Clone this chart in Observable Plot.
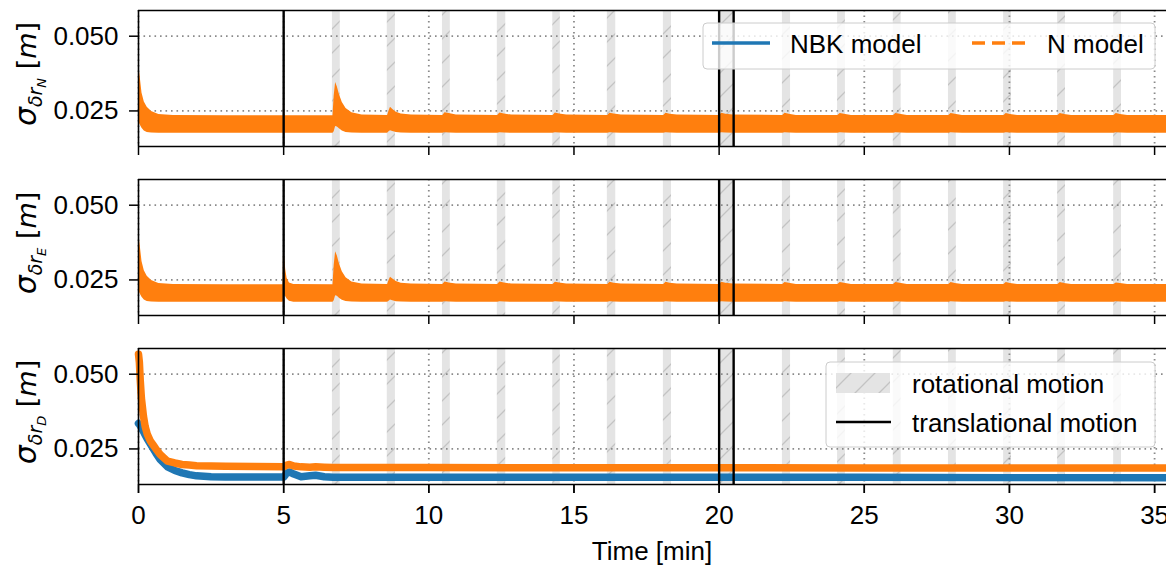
<!DOCTYPE html>
<html>
<head>
<meta charset="utf-8">
<script src="https://cdn.jsdelivr.net/npm/d3@7"></script>
<script src="https://cdn.jsdelivr.net/npm/@observablehq/plot@0.6"></script>
<style>
  body { margin: 0; background: #fff; }
  #chart { position: relative; width: 1166px; height: 568px; overflow: hidden; }
</style>
</head>
<body>
<div id="chart"></div>
<script>
// ---------- data ----------
const panels = ["N", "E", "D"];
const xTicks = [0, 5, 10, 15, 20, 25, 30, 35];
const yTicks = [0.025, 0.050];
const transTimes = [5, 20, 20.5];
const rotStarts = [6.68, 8.57, 10.47, 12.36, 14.27, 16.15, 18.08, 20.0, 22.18, 24.08, 26.0, 27.9, 29.8, 31.66, 33.59];
const rotEnds   = [6.95, 8.85, 10.74, 12.65, 14.53, 16.44, 18.36, 20.5, 22.46, 24.35, 26.27, 28.17, 30.07, 31.93, 33.86];

// North panel: envelope of the fast-oscillating N-model curve (NBK identical beneath)
const timeN = [0,0.05,0.12,0.2,0.3,0.45,0.7,1.2,3,5,6.7,6.74,6.79,6.85,6.92,7.02,7.15,7.35,7.7,8.58,8.63,8.68,8.76,8.88,9.05,9.4,
  10.48,10.56,10.7,10.95, 12.37,12.45,12.6,12.85, 14.28,14.36,14.5,14.75, 16.16,16.24,16.38,16.63, 18.09,18.17,18.31,18.56,
  20.01,20.09,20.23,20.48, 22.19,22.27,22.41,22.66, 24.09,24.17,24.31,24.56, 26.01,26.09,26.23,26.48, 27.91,27.99,28.13,28.38,
  29.81,29.89,30.03,30.28, 31.67,31.75,31.89,32.14, 33.6,33.68,33.82,34.07, 35.41];
const hiN = [0.0409,0.0370,0.0310,0.0280,0.0262,0.0248,0.0238,0.0235,0.0234,0.0234,0.0234,0.0300,0.0345,0.0330,0.0305,0.0278,0.0258,0.0244,0.0236,0.0235,0.0250,0.0262,0.0255,0.0246,0.0240,0.0236,
  0.0235,0.0244,0.0241,0.0236, 0.0235,0.0243,0.0240,0.0236, 0.0235,0.0243,0.0240,0.0236, 0.0235,0.0242,0.0240,0.0236, 0.0235,0.0242,0.0239,0.0236,
  0.0235,0.0242,0.0239,0.0236, 0.0235,0.0242,0.0239,0.0235, 0.0235,0.0241,0.0239,0.0235, 0.0235,0.0241,0.0239,0.0235, 0.0235,0.0241,0.0239,0.0235,
  0.0235,0.0241,0.0238,0.0235, 0.0235,0.0241,0.0238,0.0235, 0.0235,0.0241,0.0238,0.0235, 0.0235];
const loN = [0.0217,0.0205,0.0192,0.0183,0.0178,0.0176,0.0175,0.0175,0.0175,0.0175,0.0175,0.0180,0.0198,0.0196,0.0190,0.0183,0.0178,0.0176,0.0175,0.0175,0.0180,0.0184,0.0181,0.0178,0.0176,0.0175,
  0.0175,0.0177,0.0176,0.0175, 0.0175,0.0177,0.0176,0.0175, 0.0175,0.0177,0.0176,0.0175, 0.0175,0.0177,0.0176,0.0175, 0.0175,0.0177,0.0176,0.0175,
  0.0175,0.0177,0.0176,0.0175, 0.0175,0.0177,0.0176,0.0175, 0.0175,0.0177,0.0176,0.0175, 0.0175,0.0177,0.0176,0.0175, 0.0175,0.0177,0.0176,0.0175,
  0.0175,0.0177,0.0176,0.0175, 0.0175,0.0177,0.0176,0.0175, 0.0175,0.0177,0.0176,0.0175, 0.0175];

// East panel envelope
const timeE = [0,0.05,0.12,0.2,0.3,0.45,0.7,1.2,3,4.98,5.0,5.03,5.07,5.12,5.2,5.35,6.7,6.74,6.79,6.85,6.92,7.02,7.15,7.35,7.7,8.58,8.63,8.68,8.76,8.88,9.05,9.4,
  10.48,10.56,10.7,10.95, 12.37,12.45,12.6,12.85, 14.28,14.36,14.5,14.75, 16.16,16.24,16.38,16.63, 18.09,18.17,18.31,18.56,
  20.01,20.09,20.23,20.48, 22.19,22.27,22.41,22.66, 24.09,24.17,24.31,24.56, 26.01,26.09,26.23,26.48, 27.91,27.99,28.13,28.38,
  29.81,29.89,30.03,30.28, 31.67,31.75,31.89,32.14, 33.6,33.68,33.82,34.07, 35.41];
const hiE = [0.0409,0.0372,0.0312,0.0281,0.0262,0.0248,0.0238,0.0235,0.0234,0.0234,0.0379,0.0330,0.0285,0.0255,0.0240,0.0235,0.0234,0.0298,0.0344,0.0330,0.0304,0.0277,0.0257,0.0243,0.0236,0.0235,0.0248,0.0259,0.0253,0.0245,0.0239,0.0236,
  0.0235,0.0243,0.0240,0.0236, 0.0235,0.0243,0.0240,0.0236, 0.0235,0.0242,0.0240,0.0236, 0.0235,0.0242,0.0239,0.0236, 0.0235,0.0242,0.0239,0.0236,
  0.0235,0.0242,0.0239,0.0236, 0.0235,0.0241,0.0239,0.0235, 0.0235,0.0241,0.0239,0.0235, 0.0235,0.0241,0.0239,0.0235, 0.0235,0.0241,0.0238,0.0235,
  0.0235,0.0241,0.0238,0.0235, 0.0235,0.0241,0.0238,0.0235, 0.0235,0.0240,0.0238,0.0235, 0.0235];
const loE = [0.0217,0.0205,0.0192,0.0183,0.0178,0.0176,0.0175,0.0175,0.0175,0.0175,0.0182,0.0200,0.0194,0.0186,0.0179,0.0175,0.0175,0.0180,0.0197,0.0195,0.0189,0.0182,0.0178,0.0176,0.0175,0.0175,0.0179,0.0183,0.0180,0.0177,0.0176,0.0175,
  0.0175,0.0177,0.0176,0.0175, 0.0175,0.0177,0.0176,0.0175, 0.0175,0.0177,0.0176,0.0175, 0.0175,0.0177,0.0176,0.0175, 0.0175,0.0177,0.0176,0.0175,
  0.0175,0.0177,0.0176,0.0175, 0.0175,0.0177,0.0176,0.0175, 0.0175,0.0177,0.0176,0.0175, 0.0175,0.0177,0.0176,0.0175, 0.0175,0.0177,0.0176,0.0175,
  0.0175,0.0177,0.0176,0.0175, 0.0175,0.0177,0.0176,0.0175, 0.0175,0.0177,0.0176,0.0175, 0.0175];

// Down panel: both models
const timeD = [0,0.03,0.06,0.1,0.17,0.23,0.3,0.4,0.5,0.6,0.75,1.0,1.25,1.5,1.75,2.0,2.5,3,4,5.0,5.1,5.2,5.35,5.6,5.9,6.1,6.4,6.7,10,15,20,25,30,35.41];
const nD   = [0.0567,0.0540,0.0480,0.0420,0.0360,0.0325,0.0300,0.0278,0.0264,0.0250,0.0231,0.0209,0.0203,0.0198,0.0196,0.0194,0.0193,0.0192,0.0191,0.0190,0.0196,0.0198,0.0193,0.0190,0.0189,0.0190,0.0189,0.0188,0.0188,0.0187,0.0187,0.0186,0.0186,0.0186];
const nbkD = [0.0335,0.0332,0.0327,0.0320,0.0308,0.0297,0.0284,0.0268,0.0252,0.0236,0.0214,0.0190,0.0178,0.0170,0.0164,0.0160,0.0157,0.0156,0.0156,0.0156,0.0168,0.0173,0.0166,0.0157,0.0160,0.0162,0.0157,0.0155,0.0155,0.0155,0.0155,0.0155,0.0154,0.0154];

// ---------- tables ----------
const envRows = [
  ...timeN.map((t, i) => ({panel: "N", t, lo: loN[i], hi: hiN[i]})),
  ...timeE.map((t, i) => ({panel: "E", t, lo: loE[i], hi: hiE[i]}))
];
const nbkRows = timeD.map((t, i) => ({panel: "D", t, v: nbkD[i]}));
const nRows = timeD.map((t, i) => ({panel: "D", t, v: nD[i]}));
const bandRows = panels.flatMap(p => rotStarts.map((s, i) => ({panel: p, x1: s, x2: rotEnds[i]})));

const BLUE = "#1f77b4", ORANGE = "#ff7f0e";
const yDomain = [0.0131, 0.0586];
const FONT = "'Liberation Sans', Arial, sans-serif";

const chart = Plot.plot({
  width: 1166,
  height: 568,
  marginLeft: 138,
  marginRight: 0,
  marginTop: 9,
  marginBottom: 83,
  style: {fontFamily: FONT, fontSize: "26px", color: "#000", background: "#fff", overflow: "visible"},
  x: {domain: [0, 35.41]},
  y: {domain: yDomain},
  fy: {domain: panels, paddingInner: 0.194, paddingOuter: 0, axis: null, label: null},
  marks: [
    Plot.rect(bandRows, {x1: "x1", x2: "x2", fy: "panel", fill: "url(#hatch)"}),
    Plot.ruleY(yTicks, {stroke: "#8a8a8a", strokeWidth: 1.8, strokeDasharray: "1.6,3.9"}),
    Plot.ruleX(xTicks, {stroke: "#8a8a8a", strokeWidth: 1.8, strokeDasharray: "1.6,3.9"}),
    Plot.areaY(envRows, {x: "t", y1: "lo", y2: "hi", fy: "panel", fill: ORANGE, curve: "linear"}),
    Plot.line(nbkRows, {x: "t", y: "v", fy: "panel", stroke: BLUE, strokeWidth: 7.5, curve: "linear"}),
    Plot.line(nRows, {x: "t", y: "v", fy: "panel", stroke: ORANGE, strokeWidth: 7.5, curve: "linear"}),
    Plot.ruleX(transTimes, {stroke: "#000", strokeWidth: 2.4}),
    Plot.ruleY(yDomain, {stroke: "#000", strokeWidth: 1.6}),
    Plot.ruleX([0], {stroke: "#000", strokeWidth: 1.6}),
    Plot.axisY(yTicks, {tickSize: 9, tickPadding: 11, tickFormat: d3.format(".3f"), label: null, fontSize: 26, strokeWidth: 1.5}),
    Plot.axisX(xTicks, {tickSize: 9, tickPadding: 12, tickFormat: d3.format("d"), label: null, fontSize: 26, strokeWidth: 1.5}),
    Plot.axisX(xTicks, {tickSize: 9, tickFormat: () => "", label: null, strokeWidth: 1.5, facetAnchor: null})
  ]
});
document.getElementById("chart").appendChild(chart);

// ---------- hatch pattern, labels, legends ----------
const svg = d3.select(chart);
const defs = svg.insert("defs", ":first-child");
const pat = defs.append("pattern").attr("id", "hatch").attr("patternUnits", "userSpaceOnUse")
  .attr("width", 24).attr("height", 24);
pat.append("rect").attr("width", 24).attr("height", 24).attr("fill", "#e4e4e4");
pat.append("path").attr("d", "M-6,6 L6,-6 M0,24 L24,0 M18,30 L30,18")
  .attr("stroke", "#c3c3c3").attr("stroke-width", 1.3);

let fyScale = null;
try { fyScale = chart.scale("fy"); } catch (e) {}
const panelTops = {N: 9, E: 178.5, D: 348};
const bw = fyScale && fyScale.bandwidth ? fyScale.bandwidth : 137;
if (fyScale && fyScale.apply) panels.forEach(p => { panelTops[p] = fyScale.apply(p); });

panels.forEach(p => {
  const cy = panelTops[p] + bw / 2 - 4;
  const t = svg.append("text")
    .attr("transform", `translate(36,${cy}) rotate(-90)`)
    .attr("text-anchor", "middle")
    .attr("font-family", "'DejaVu Sans', sans-serif")
    .attr("font-size", 27)
    .attr("fill", "#000");
  t.append("tspan").attr("font-style", "italic").attr("font-size", 30).text("σ");
  t.append("tspan").attr("font-style", "italic").attr("font-size", 19).attr("dy", 6).text("δr");
  t.append("tspan").attr("font-style", "italic").attr("font-size", 13).attr("dy", 4).text(p);
  t.append("tspan").attr("dy", -10).text(" [");
  t.append("tspan").attr("font-style", "italic").text("m");
  t.append("tspan").text("]");
});

svg.append("text").attr("x", 652).attr("y", 560).attr("text-anchor", "middle")
  .attr("font-family", FONT).attr("font-size", 26).attr("fill", "#000").text("Time [min]");

// legend 1 (top panel)
const lg1 = svg.append("g").attr("text-anchor", "start").attr("font-family", FONT).attr("font-size", 26).attr("fill", "#000");
lg1.append("rect").attr("x", 703).attr("y", 23).attr("width", 452).attr("height", 46).attr("rx", 4)
  .attr("fill", "#fff").attr("fill-opacity", 0.8).attr("stroke", "#cccccc").attr("stroke-width", 1);
lg1.append("line").attr("x1", 712).attr("x2", 770).attr("y1", 43).attr("y2", 43)
  .attr("stroke", BLUE).attr("stroke-width", 3.3);
lg1.append("text").attr("x", 790).attr("y", 53).text("NBK model");
lg1.append("line").attr("x1", 972).attr("x2", 1026).attr("y1", 43).attr("y2", 43)
  .attr("stroke", ORANGE).attr("stroke-width", 3.3).attr("stroke-dasharray", "13,7");
lg1.append("text").attr("x", 1047).attr("y", 53).text("N model");

// legend 2 (bottom panel)
const lg2 = svg.append("g").attr("text-anchor", "start").attr("font-family", FONT).attr("font-size", 26).attr("fill", "#000");
lg2.append("rect").attr("x", 826).attr("y", 362).attr("width", 329).attr("height", 85).attr("rx", 4)
  .attr("fill", "#fff").attr("fill-opacity", 0.8).attr("stroke", "#cccccc").attr("stroke-width", 1);
lg2.append("rect").attr("x", 836).attr("y", 373).attr("width", 54).attr("height", 20).attr("fill", "url(#hatch)");
lg2.append("text").attr("x", 912).attr("y", 393).text("rotational motion");
lg2.append("line").attr("x1", 836).attr("x2", 891).attr("y1", 422).attr("y2", 422)
  .attr("stroke", "#000").attr("stroke-width", 2.5);
lg2.append("text").attr("x", 912).attr("y", 432).text("translational motion");
</script>
</body>
</html>
